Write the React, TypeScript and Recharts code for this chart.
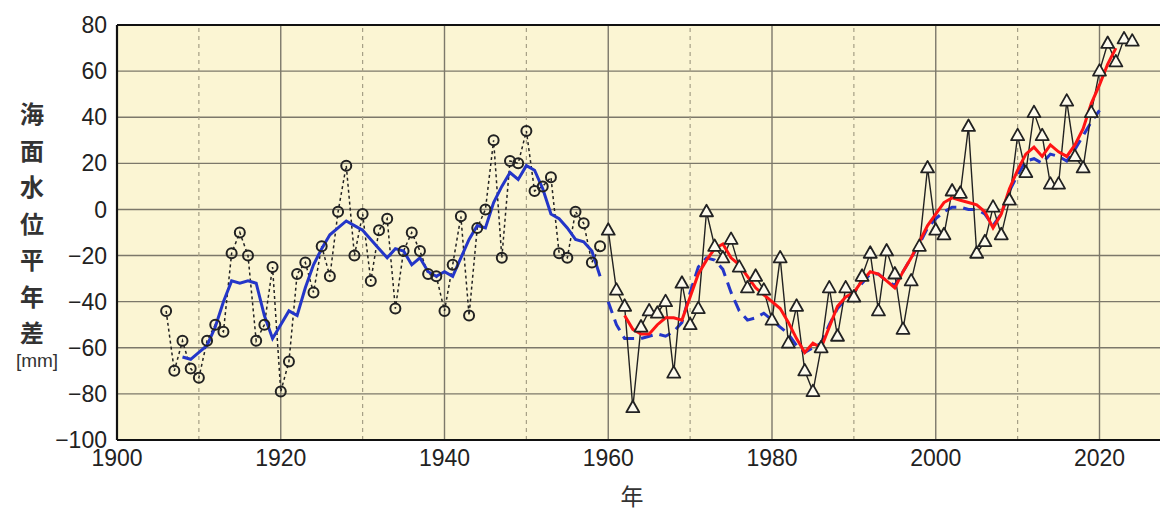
import React from "react";
import { ComposedChart, Line, XAxis, YAxis, CartesianGrid, ReferenceLine } from "recharts";

// Annual mean sea level anomaly (mm), tide-gauge set A (circles), 1906-1959
const circleStart = 1906;
const circleVals = [
  -44, -70, -57, -69, -73, -57, -50, -53, -19, -10,
  -20, -57, -50, -25, -79, -66, -28, -23, -36, -16,
  -29, -1, 19, -20, -2, -31, -9, -4, -43, -18,
  -10, -18, -28, -29, -44, -24, -3, -46, -8, 0,
  30, -21, 21, 20, 34, 8, 10, 14, -19, -21,
  -1, -6, -23, -16,
];

// Running mean of set A (blue solid), 1908-1959
const blueStart = 1908;
const blueVals = [
  -64, -65, -62, -59, -51, -40, -31, -32, -31, -32,
  -46, -56, -50, -44, -46, -34, -24, -17, -11, -8,
  -5, -7, -9, -13, -17, -21, -17, -18, -24, -21,
  -27, -29, -27, -29, -21, -13, -7, -8, 3, 10,
  16, 13, 19, 17, 9, -2, -4, -8, -13, -14,
  -18, -29,
];

// Running mean of set A continued (blue dashed), 1960-2020
const blueDashStart = 1960;
const blueDashVals = [
  -40, -50, -56, -56, -56, -55, -54, -55, -53, -49,
  -36, -25, -21, -22, -26, -36, -44, -48, -47, -45,
  -48, -51, -54, -59, -62, -60, -58, -50, -43, -39,
  -36, -32, -28, -28, -31, -33, -27, -21, -15, -8,
  -4, -1, 1, 1, 0, 0, -2, -7, -2, 8,
  15, 21, 22, 20, 24, 23, 21, 26, 32, 38,
  43,
];

// Annual mean, tide-gauge set B (triangles), 1960-2024
const triStart = 1960;
const triVals = [
  -9, -35, -42, -86, -51, -44, -45, -40, -71, -32,
  -50, -43, -1, -16, -21, -13, -25, -34, -29, -35,
  -48, -21, -58, -42, -70, -79, -60, -34, -55, -34,
  -38, -29, -19, -44, -18, -28, -52, -31, -16, 18,
  -9, -11, 8, 7, 36, -19, -14, 1, -11, 4,
  32, 16, 42, 32, 11, 11, 47, 23, 18, 42,
  60, 72, 64, 74, 73,
];

// Running mean of set B (red), 1962-2022
const redStart = 1962;
const redVals = [
  -46, -52, -54, -54, -50, -47, -47, -48, -38, -28,
  -22, -17, -15, -21, -24, -29, -34, -37, -40, -43,
  -49, -56, -62, -58, -60, -51, -42, -38, -36, -31,
  -27, -28, -31, -34, -27, -21, -14, -7, -2, 3,
  5, 4, 3, 2, -1, -8, -2, 9, 17, 24,
  27, 23, 28, 25, 23, 28, 35, 46, 54, 63,
  70,
];

const xTicks = [1900, 1920, 1940, 1960, 1980, 2000, 2020];
const xMinorTicks = [1910, 1930, 1950, 1970, 1990, 2010];
const yTicks = [-100, -80, -60, -40, -20, 0, 20, 40, 60, 80];
const yLabelChars = ["海", "面", "水", "位", "平", "年", "差"];
const yUnit = "[mm]";
const xLabel = "年";

const toSeries = (start: number, vals: number[]) =>
  vals.map((v, i) => ({ year: start + i, v }));

const circleData = toSeries(circleStart, circleVals);
const blueData = toSeries(blueStart, blueVals);
const blueDashData = toSeries(blueDashStart, blueDashVals);
const triData = toSeries(triStart, triVals);
const redData = toSeries(redStart, redVals);

const BG = "#FBF5D3";
const GRID = "#7c786a";
const BLUE = "#2436c8";
const RED = "#ff1414";

const CircleDot = (props: any) => {
  const { cx, cy, index } = props;
  if (cx == null || cy == null) return <g key={"c" + index} />;
  return <circle key={"c" + index} cx={cx} cy={cy} r={5} fill="none" stroke="#222" strokeWidth={2} />;
};

const TriDot = (props: any) => {
  const { cx, cy, index } = props;
  if (cx == null || cy == null) return <g key={"t" + index} />;
  const d = `M${cx},${cy - 7} L${cx - 6.5},${cy + 4.5} L${cx + 6.5},${cy + 4.5} Z`;
  return <path key={"t" + index} d={d} fill="#fdfbee" stroke="#222" strokeWidth={1.8} strokeLinejoin="round" />;
};

const fmtY = (v: number) => (v < 0 ? "\u2212" + Math.abs(v) : String(v));

export default function App() {
  return (
    <div
      style={{
        position: "relative",
        width: 1160,
        height: 503,
        background: "#fff",
        fontFamily: "'Liberation Sans', Arial, sans-serif",
      }}
    >
      <ComposedChart width={1160} height={503} margin={{ top: 17, right: 3, bottom: 41, left: 0 }}>
        <CartesianGrid stroke={GRID} strokeWidth={1.4} fill={BG} fillOpacity={1} />
        <XAxis
          type="number"
          dataKey="year"
          domain={[1900, 2028]}
          ticks={xTicks}
          interval={0}
          allowDataOverflow
          axisLine={false}
          tickLine={false}
          tickSize={0}
          tickMargin={10}
          height={30}
          tick={{ fontSize: 23, fill: "#222" }}
        />
        <YAxis
          type="number"
          domain={[-100, 80]}
          ticks={yTicks}
          interval={0}
          width={109}
          axisLine={false}
          tickLine={false}
          tickSize={0}
          tickMargin={10}
          tickFormatter={fmtY}
          tick={{ fontSize: 23, fill: "#222" }}
        />
        {xMinorTicks.map((x) => (
          <ReferenceLine key={"m" + x} x={x} stroke="#a59f86" strokeWidth={1.2} strokeDasharray="4 4" />
        ))}
        <Line
          data={circleData}
          dataKey="v"
          stroke="#222"
          strokeWidth={1.5}
          strokeDasharray="3 3"
          dot={CircleDot}
          activeDot={false}
          isAnimationActive={false}
        />
        <Line
          data={blueDashData}
          dataKey="v"
          stroke={BLUE}
          strokeWidth={3}
          strokeDasharray="12 7"
          dot={false}
          activeDot={false}
          isAnimationActive={false}
        />
        <Line
          data={triData}
          dataKey="v"
          stroke="#222"
          strokeWidth={1.4}
          dot={TriDot}
          activeDot={false}
          isAnimationActive={false}
        />
        <Line
          data={blueData}
          dataKey="v"
          stroke={BLUE}
          strokeWidth={3}
          dot={false}
          activeDot={false}
          isAnimationActive={false}
        />
        <Line
          data={redData}
          dataKey="v"
          stroke={RED}
          strokeWidth={3}
          dot={false}
          activeDot={false}
          isAnimationActive={false}
        />
        <ReferenceLine x={1900} stroke="#111" strokeWidth={2.2} />
        <ReferenceLine x={2028} stroke="#111" strokeWidth={2.2} />
        <ReferenceLine y={80} stroke="#111" strokeWidth={2.2} />
        <ReferenceLine y={-100} stroke="#111" strokeWidth={2.2} />
      </ComposedChart>
      {yLabelChars.map((ch, i) => (
        <div
          key={ch + i}
          style={{
            position: "absolute",
            left: 4,
            top: 105 + i * 36.5 - 15,
            width: 40,
            height: 30,
            lineHeight: "30px",
            textAlign: "center",
            fontSize: 24,
            fontWeight: 700,
            color: "#333",
            fontFamily: "'Noto Sans CJK JP', 'Noto Sans CJK SC', sans-serif",
          }}
        >
          {ch}
        </div>
      ))}
      <div
        style={{
          position: "absolute",
          left: 0,
          top: 342,
          width: 58,
          height: 22,
          lineHeight: "22px",
          textAlign: "center",
          fontSize: 19,
          color: "#333",
        }}
      >
        {yUnit}
      </div>
      <div
        style={{
          position: "absolute",
          left: 604,
          top: 472,
          width: 40,
          height: 30,
          lineHeight: "30px",
          textAlign: "center",
          fontSize: 23,
          color: "#333",
          fontFamily: "'Noto Sans CJK JP', 'Noto Sans CJK SC', sans-serif",
        }}
      >
        {xLabel}
      </div>
    </div>
  );
}
